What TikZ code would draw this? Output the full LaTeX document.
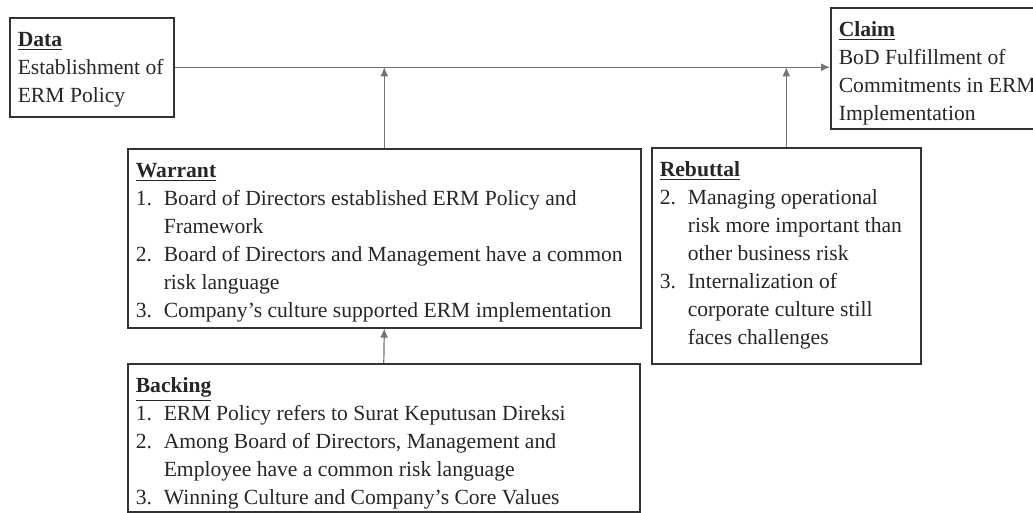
\documentclass[tikz,border=0pt]{standalone}
\usepackage{fontspec}
\setmainfont{Liberation Serif}
\usetikzlibrary{arrows.meta}

\definecolor{framegray}{gray}{0.2}
\definecolor{linkgray}{gray}{0.45}

\newcommand{\heading}[1]{\underline{\textbf{#1}}}
\newcommand{\itm}[1]{\makebox[14pt][l]{#1}}
\newcommand{\cont}{\hspace*{14pt}}
% fixed-size text block, lines set one per row
\newcommand{\panel}[3]{\parbox[t][#2][t]{#1}{%
  \begin{tabular}[t]{@{}l@{}}#3\end{tabular}}}

\tikzset{
  box/.style={draw=framegray, line width=0.8pt, anchor=north west,
    inner xsep=4pt, inner ysep=4.5pt,
    font=\fontsize{10.8}{14}\selectfont, text=black!85},
  link/.style={draw=linkgray, line width=0.6pt, -{Latex[length=4.5pt,width=4pt]}}
}

\begin{document}
\begin{tikzpicture}[x=0.5pt, y=-0.5pt]
\clip (0,0) rectangle (1033,513);

%% Toulmin boxes
\node[box] (data) at (9,17) {\panel{74pt}{40.5pt}{%
  \heading{Data}\\ Establishment of\\ ERM Policy}};
\node[box] (claim) at (830,7) {\panel{97pt}{51.5pt}{%
  \heading{Claim}\\ BoD Fulfillment of\\ Commitments in ERM\\ Implementation}};
\node[box] (warrant) at (127,148) {\panel{248.5pt}{80.5pt}{%
  \heading{Warrant}\\
  \itm{1.}Board of Directors established ERM Policy and\\
  \cont Framework\\
  \itm{2.}Board of Directors and Management have a common\\
  \cont risk language\\
  \itm{3.}Company’s culture supported ERM implementation}};
\node[box] (rebuttal) at (651,147) {\panel{126.5pt}{99pt}{%
  \heading{Rebuttal}\\
  \itm{2.}Managing operational\\
  \cont risk more important than\\
  \cont other business risk\\
  \itm{3.}Internalization of\\
  \cont corporate culture still\\
  \cont faces challenges}};
\node[box] (backing) at (127,363) {\panel{248pt}{65pt}{%
  \heading{Backing}\\
  \itm{1.}ERM Policy refers to Surat Keputusan Direksi\\
  \itm{2.}Among Board of Directors, Management and\\
  \cont Employee have a common risk language\\
  \itm{3.}Winning Culture and Company’s Core Values}};

%% Verbindungen
\coordinate (wjoin) at (warrant.north |- data.east);
\coordinate (rjoin) at (rebuttal.north |- data.east);
\draw[link] (data.east) -- (data.east -| claim.west);
\draw[link] (warrant.north) -- (wjoin);
\draw[link] (rebuttal.north) -- (rjoin);
\draw[link] (backing.north) -- (warrant.south);
\end{tikzpicture}
\end{document}
